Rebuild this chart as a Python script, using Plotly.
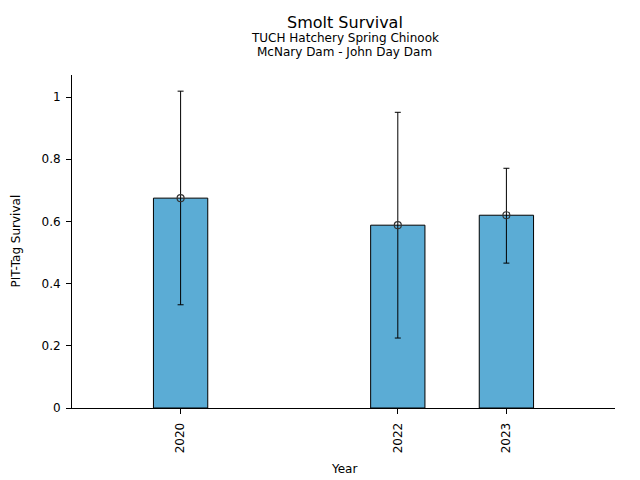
import plotly.graph_objects as go

years = [2020, 2022, 2023]
survival = [0.675, 0.588, 0.620]
upper_ci = [1.019, 0.951, 0.771]
lower_ci = [0.332, 0.225, 0.466]
y_ticks = [0, 0.2, 0.4, 0.6, 0.8, 1]
y_tick_text = ["0", "0.2", "0.4", "0.6", "0.8", "1"]

err_plus = [u - s for u, s in zip(upper_ci, survival)]
err_minus = [s - l for s, l in zip(survival, lower_ci)]

font = "DejaVu Sans"

fig = go.Figure()
fig.add_trace(go.Bar(
    x=years, y=survival, width=0.5,
    marker=dict(color="#5BACD5", line=dict(color="black", width=1)),
    showlegend=False, hoverinfo="skip",
))
fig.add_trace(go.Scatter(
    x=years, y=survival, mode="markers",
    marker=dict(symbol="circle-open", size=7, color="#333333", line=dict(width=1.2)),
    error_y=dict(type="data", symmetric=False, array=err_plus, arrayminus=err_minus,
                 color="black", thickness=1, width=3),
    showlegend=False,
))

# page body has an 8px default margin; compensate so the plot area lands where the reference's does
fig.update_layout(
    width=640, height=480,
    margin=dict(l=64, r=33, t=67, b=80, autoexpand=False),
    plot_bgcolor="white", paper_bgcolor="white",
    font=dict(family=font, size=12, color="black"),
    xaxis=dict(
        range=[2019, 2024], tickvals=years, ticktext=[str(y) for y in years],
        tickangle=-90, ticks="outside", ticklen=5, tickcolor="black", automargin=False,
        ticklabelstandoff=4,
        showline=True, linecolor="black", linewidth=1, showgrid=False, zeroline=False,
    ),
    yaxis=dict(
        range=[0, 1.071], tickvals=y_ticks, ticktext=y_tick_text, automargin=False,
        ticks="outside", ticklen=5, tickcolor="black", ticklabelstandoff=3,
        showline=True, linecolor="black", linewidth=1, showgrid=False, zeroline=False,
    ),
)
fig.add_annotation(text="Smolt Survival", xref="paper", yref="paper", x=0.5, y=1.0,
                   yshift=53, xshift=1, showarrow=False, font=dict(size=16), yanchor="middle")
fig.add_annotation(text="TUCH Hatchery Spring Chinook", xref="paper", yref="paper", x=0.5, y=1.0,
                   yshift=37, xshift=1, showarrow=False, font=dict(size=12), yanchor="middle")
fig.add_annotation(text="McNary Dam - John Day Dam", xref="paper", yref="paper", x=0.5, y=1.0,
                   yshift=23, xshift=1, showarrow=False, font=dict(size=12), yanchor="middle")
fig.add_annotation(text="Year", xref="paper", yref="paper", x=0.5, y=0.0,
                   yshift=-61, showarrow=False, font=dict(size=12), yanchor="middle")
fig.add_annotation(text="PIT-Tag Survival", xref="paper", yref="paper", x=0.0, y=0.5,
                   xshift=-57, showarrow=False, font=dict(size=12), xanchor="center",
                   yanchor="middle", textangle=-90)

fig.write_html("out.html")
